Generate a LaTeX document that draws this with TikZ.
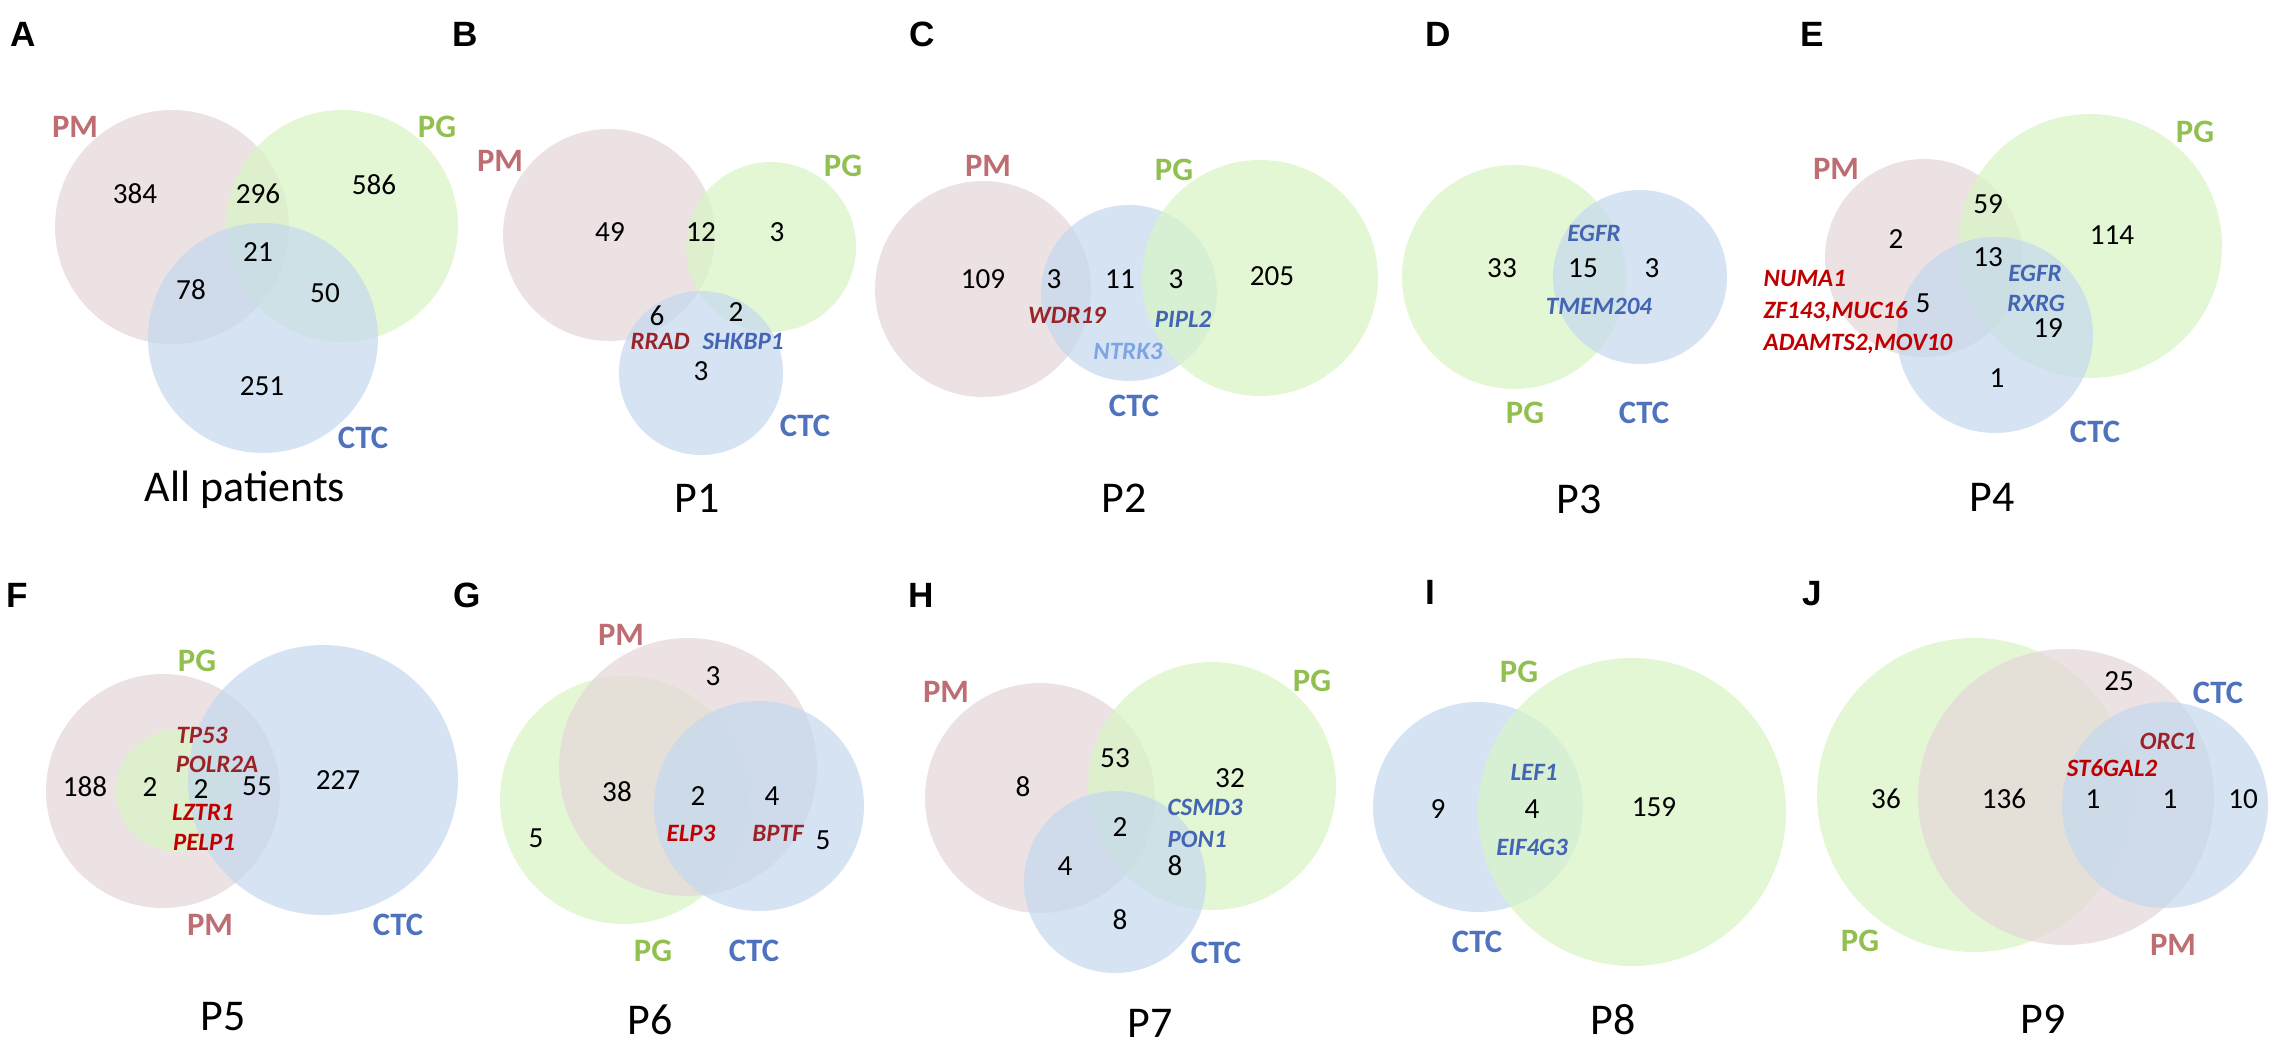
\documentclass[tikz,border=0pt]{standalone}
\usepackage{fontspec}
\setmainfont{Carlito}
\newfontfamily\arialfam{Liberation Sans}
\definecolor{pmbase}{RGB}{229,213,216}
\definecolor{pgbase}{RGB}{216,245,196}
\definecolor{ctcbase}{RGB}{196,216,239}
\definecolor{pmtext}{RGB}{190,110,115}
\definecolor{pgtext}{RGB}{146,192,80}
\definecolor{ctctext}{RGB}{79,114,190}
\definecolor{gred}{RGB}{192,0,0}
\definecolor{gdred}{RGB}{155,35,40}
\definecolor{gblue}{RGB}{68,100,180}
\definecolor{glblue}{RGB}{125,165,228}
\newcommand\vennnum{\fontsize{8.3}{10}\selectfont}
\newcommand\vennlab{\fontsize{9.3}{11}\selectfont\bfseries}
\newcommand\venngene{\fontsize{7.1}{9}\selectfont\bfseries\itshape}
\newcommand\venntitle{\fontsize{12.5}{14}\selectfont}
\newcommand\vennlet{\fontsize{10}{12}\selectfont\arialfam\bfseries}
\tikzset{
 pmc/.style={fill=pmbase, fill opacity=0.7},
 pgc/.style={fill=pgbase, fill opacity=0.7},
 ctcc/.style={fill=ctcbase, fill opacity=0.7},
 num/.style={font=\vennnum, inner sep=0pt, text height=5.3pt, text depth=0pt},
 setlab/.style={font=\vennlab, inner sep=0pt, text height=6pt, text depth=0pt},
 pml/.style={setlab, text=pmtext},
 pgl/.style={setlab, text=pgtext},
 ctcl/.style={setlab, text=ctctext},
 gene/.style={font=\venngene, inner sep=0pt, text height=4.6pt, text depth=0pt},
 gr/.style={gene, text=gred},
 gdr/.style={gene, text=gdred},
 gb/.style={gene, text=gblue},
 glb/.style={gene, text=glblue},
 ptitle/.style={font=\venntitle, inner sep=0pt, text height=8pt, text depth=0pt},
 plet/.style={font=\vennlet, inner sep=0pt, text height=7.2pt, text depth=0pt},
}
\begin{document}
\begin{tikzpicture}[x=0.1mm,y=-0.1mm]
\fill[white] (0,0) rectangle (2282,1050);
\useasboundingbox (0,0) rectangle (2282,1050);
% ---------- A
\fill[pmc] (172,227) circle[radius=117];
\fill[pgc] (342,226) circle[radius=116];
\fill[ctcc] (263,338) circle[radius=115];
\node[plet] (lA) at (23,34) {A};
\node[pml] (aPM) at (75,127) {PM};
\node[pgl] (aPG) at (437,127) {PG};
\node[ctcl] (aCTC) at (363,438) {CTC};
\node[num] (a1) at (135,194) {384};
\node[num] (a2) at (258,194) {296};
\node[num] (a3) at (374,185) {586};
\node[num] (a4) at (258,252) {21};
\node[num] (a5) at (191,290) {78};
\node[num] (a6) at (325,293) {50};
\node[num] (a7) at (262,386) {251};
\node[ptitle] (aT) at (245,487) {All patients};
% ---------- B
\fill[pmc] (609,235) circle[radius=106];
\fill[pgc] (771,247) circle[radius=85];
\fill[ctcc] (701,373) circle[radius=82];
\node[plet] (lB) at (465,34) {B};
\node[pml] (bPM) at (500,161) {PM};
\node[pgl] (bPG) at (843,166) {PG};
\node[ctcl] (bCTC) at (805,426) {CTC};
\node[num] (b1) at (610,232) {49};
\node[num] (b2) at (701,232) {12};
\node[num] (b3) at (777,232) {3};
\node[num] (b4) at (657,316) {6};
\node[num] (b5) at (736,312) {2};
\node[num] (b6) at (701,371) {3};
\node[gdr] (bg1) at (660,341) {RRAD};
\node[gb] (bg2) at (743,341) {SHKBP1};
\node[ptitle] (bT) at (697,498) {P1};
% ---------- C
\fill[pmc] (983,289) circle[radius=108];
\fill[ctcc] (1129,293) circle[radius=88];
\fill[pgc] (1260,278) circle[radius=118];
\node[plet] (lC) at (922,34) {C};
\node[pml] (cPM) at (988,166) {PM};
\node[pgl] (cPG) at (1174,170) {PG};
\node[ctcl] (cCTC) at (1134,406) {CTC};
\node[num] (c1) at (983,279) {109};
\node[num] (c2) at (1054,279) {3};
\node[num] (c3) at (1120,279) {11};
\node[num] (c4) at (1176,279) {3};
\node[num] (c5) at (1272,276) {205};
\node[gdr] (cg1) at (1067,315) {WDR19};
\node[gb] (cg2) at (1183,319) {PIPL2};
\node[glb] (cg3) at (1128,351) {NTRK3};
\node[ptitle] (cT) at (1124,498) {P2};
% ---------- D
\fill[pgc] (1514,277) circle[radius=112];
\fill[ctcc] (1640,277) circle[radius=87];
\node[plet] (lD) at (1438,34) {D};
\node[pgl] (dPG) at (1525,413) {PG};
\node[ctcl] (dCTC) at (1644,413) {CTC};
\node[num] (d1) at (1502,268) {33};
\node[num] (d2) at (1583,268) {15};
\node[num] (d3) at (1652,268) {3};
\node[gb] (dg1) at (1594,233) {EGFR};
\node[gb] (dg2) at (1599,306) {TMEM204};
\node[ptitle] (dT) at (1579,499) {P3};
% ---------- E
\fill[pmc] (1924,258) circle[radius=99];
\fill[pgc] (2090,246) circle[radius=132];
\fill[ctcc] (1995,335) circle[radius=98];
\node[plet] (lE) at (1812,34) {E};
\node[pml] (ePM) at (1836,169) {PM};
\node[pgl] (ePG) at (2195,132) {PG};
\node[ctcl] (eCTC) at (2095,432) {CTC};
\node[num] (e1) at (1988,204) {59};
\node[num] (e2) at (1896,239) {2};
\node[num] (e3) at (2112,235) {114};
\node[num] (e4) at (1988,257) {13};
\node[num] (e5) at (1923,303) {5};
\node[num] (e6) at (2048,328) {19};
\node[num] (e7) at (1997,378) {1};
\node[gb] (eg1) at (2035,273) {EGFR};
\node[gb] (eg2) at (2036,303) {RXRG};
\node[gr, anchor=west] (eg3) at (1763,278) {NUMA1};
\node[gr, anchor=west] (eg4) at (1763,310) {ZF143,MUC16};
\node[gr, anchor=west] (eg5) at (1763,342) {ADAMTS2,MOV10};
\node[ptitle] (eT) at (1992,497) {P4};
% ---------- F
\fill[pmc] (163,791) circle[radius=117];
\fill[pgc] (177,791) circle[radius=61];
\fill[ctcc] (323,780) circle[radius=135];
\node[plet] (lF) at (17,595) {F};
\node[pgl] (fPG) at (197,661) {PG};
\node[pml] (fPM) at (210,925) {PM};
\node[ctcl] (fCTC) at (398,925) {CTC};
\node[num] (f1) at (85,787) {188};
\node[num] (f2) at (150,787) {2};
\node[num] (f3) at (201,789) {2};
\node[num] (f4) at (257,786) {55};
\node[num] (f5) at (338,780) {227};
\node[gdr] (fg1) at (202,735) {TP53};
\node[gdr] (fg2) at (217,764) {POLR2A};
\node[gr] (fg3) at (203,812) {LZTR1};
\node[gr] (fg4) at (204,842) {PELP1};
\node[ptitle] (fT) at (223,1016) {P5};
% ---------- G
\fill[pgc] (624,800) circle[radius=124];
\fill[pmc] (688,767) circle[radius=129];
\fill[ctcc] (759,806) circle[radius=105];
\node[plet] (lG) at (467,595) {G};
\node[pml] (gPM) at (621,635) {PM};
\node[pgl] (gPG) at (653,951) {PG};
\node[ctcl] (gCTC) at (754,951) {CTC};
\node[num] (g1) at (713,676) {3};
\node[num] (g2) at (617,792) {38};
\node[num] (g3) at (698,796) {2};
\node[num] (g4) at (772,796) {4};
\node[num] (g5) at (536,838) {5};
\node[num] (g6) at (823,840) {5};
\node[gr] (gg1) at (691,833) {ELP3};
\node[gdr] (gg2) at (778,833) {BPTF};
\node[ptitle] (gT) at (650,1020) {P6};
% ---------- H
\fill[pmc] (1040,798) circle[radius=115];
\fill[pgc] (1212,786) circle[radius=124];
\fill[ctcc] (1115,882) circle[radius=91];
\node[plet] (lH) at (921,595) {H};
\node[pml] (hPM) at (946,692) {PM};
\node[pgl] (hPG) at (1312,681) {PG};
\node[ctcl] (hCTC) at (1216,953) {CTC};
\node[num] (h1) at (1115,758) {53};
\node[num] (h2) at (1023,787) {8};
\node[num] (h3) at (1230,778) {32};
\node[num] (h4) at (1120,827) {2};
\node[num] (h5) at (1065,866) {4};
\node[num] (h6) at (1175,866) {8};
\node[num] (h7) at (1120,920) {8};
\node[gb, anchor=west] (hg1) at (1167,807) {CSMD3};
\node[gb, anchor=west] (hg2) at (1167,839) {PON1};
\node[ptitle] (hT) at (1150,1023) {P7};
% ---------- I
\fill[ctcc] (1478,807) circle[radius=105];
\fill[pgc] (1632,812) circle[radius=154];
\node[plet] (lI) at (1430,592) {I};
\node[pgl] (iPG) at (1519,672) {PG};
\node[ctcl] (iCTC) at (1477,942) {CTC};
\node[num] (i1) at (1438,809) {9};
\node[num] (i2) at (1532,809) {4};
\node[num] (i3) at (1654,807) {159};
\node[gb] (ig1) at (1534,772) {LEF1};
\node[gb] (ig2) at (1532,847) {EIF4G3};
\node[ptitle] (iT) at (1613,1020) {P8};
% ---------- J
\fill[pgc] (1974,795) circle[radius=157];
\fill[pmc] (2066,797) circle[radius=148];
\fill[ctcc] (2165,805) circle[radius=103];
\node[plet] (lJ) at (1812,593) {J};
\node[pgl] (jPG) at (1860,941) {PG};
\node[pml] (jPM) at (2173,945) {PM};
\node[ctcl] (jCTC) at (2218,693) {CTC};
\node[num] (j1) at (2119,681) {25};
\node[num] (j2) at (1886,799) {36};
\node[num] (j3) at (2004,799) {136};
\node[num] (j4) at (2093,799) {1};
\node[num] (j5) at (2170,799) {1};
\node[num] (j6) at (2243,799) {10};
\node[gdr] (jg1) at (2168,741) {ORC1};
\node[gr] (jg2) at (2112,768) {ST6GAL2};
\node[ptitle] (jT) at (2043,1019) {P9};
\end{tikzpicture}
\end{document}
